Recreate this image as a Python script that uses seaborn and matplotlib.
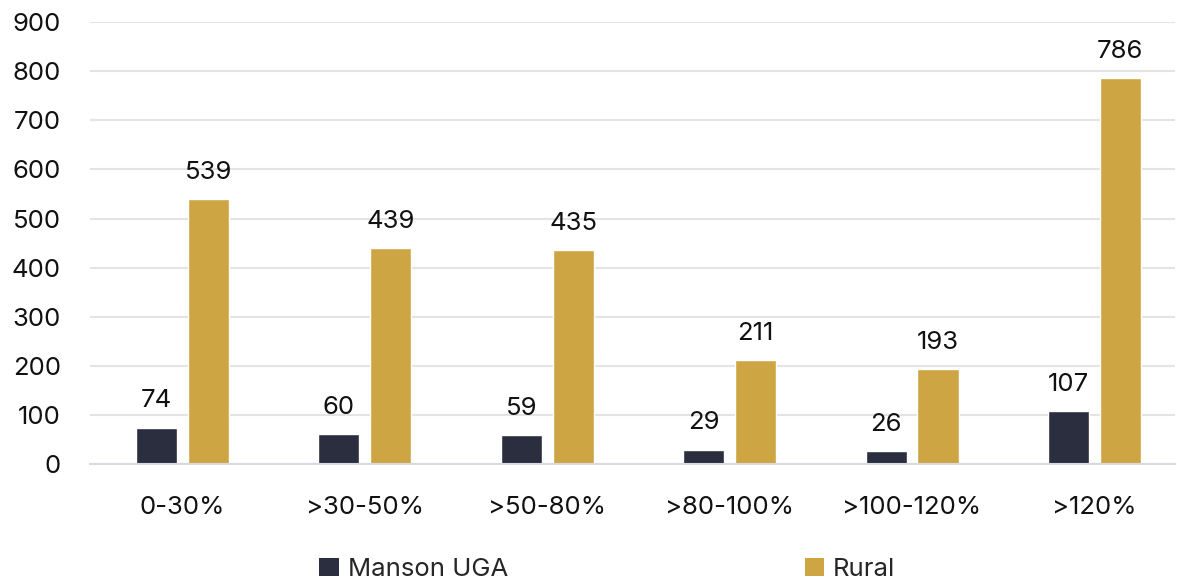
import matplotlib
matplotlib.use("Agg")
import matplotlib.pyplot as plt
import seaborn as sns
import pandas as pd
from matplotlib.patches import Patch

categories = ["0-30%", ">30-50%", ">50-80%", ">80-100%", ">100-120%", ">120%"]
manson_uga = [74, 60, 59, 29, 26, 107]
rural = [539, 439, 435, 211, 193, 786]
series_names = ["Manson UGA", "Rural"]
y_ticks = [0, 100, 200, 300, 400, 500, 600, 700, 800, 900]

colors = {"Manson UGA": "#2B2E3F", "Rural": "#CDA643"}

df = pd.DataFrame({
    "category": categories * 2,
    "value": manson_uga + rural,
    "series": [series_names[0]] * len(categories) + [series_names[1]] * len(categories),
})

sns.set_theme(style="white")
plt.rcParams["font.family"] = ["Inter", "DejaVu Sans"]

fs = 18.5
fig = plt.figure(figsize=(11.77, 5.85), dpi=100)
ax = fig.add_axes([0.0765, 0.207, 0.9215, 0.755])

sns.barplot(data=df, x="category", y="value", hue="series", order=categories,
            hue_order=series_names, palette=colors, width=0.57, gap=0.21,
            saturation=1, ax=ax, legend=False)

for cont in ax.containers:
    ax.bar_label(cont, labels=[f"{int(v)}" for v in cont.datavalues],
                 padding=11, fontsize=fs, color="#111111")

ax.set_ylim(0, 900)
ax.set_xlim(-0.507, 5.44)
ax.set_yticks(y_ticks)
ax.set_yticklabels([str(t) for t in y_ticks], fontsize=fs, color="#111111")
ax.tick_params(axis="y", length=0, pad=21)
ax.tick_params(axis="x", length=0, pad=23, labelsize=fs, labelcolor="#111111")
ax.set_xlabel("")
ax.set_ylabel("")
ax.yaxis.grid(True, color="#E4E4E4", linewidth=1.5)
ax.set_axisbelow(True)
for s in ["top", "right", "left"]:
    ax.spines[s].set_visible(False)
ax.spines["bottom"].set_color("#D9D9E3")
ax.spines["bottom"].set_linewidth(1.5)

handles = [Patch(facecolor=colors[n], edgecolor="none", label=n) for n in series_names]
fig.legend(handles=handles, loc="upper center", bbox_to_anchor=(0.516, 0.047),
           ncol=2, frameon=False, fontsize=fs, columnspacing=11.55,
           handlelength=0.75, handleheight=0.75, handletextpad=0.35,
           borderaxespad=0, borderpad=0)

fig.savefig("out.png", dpi=100)
